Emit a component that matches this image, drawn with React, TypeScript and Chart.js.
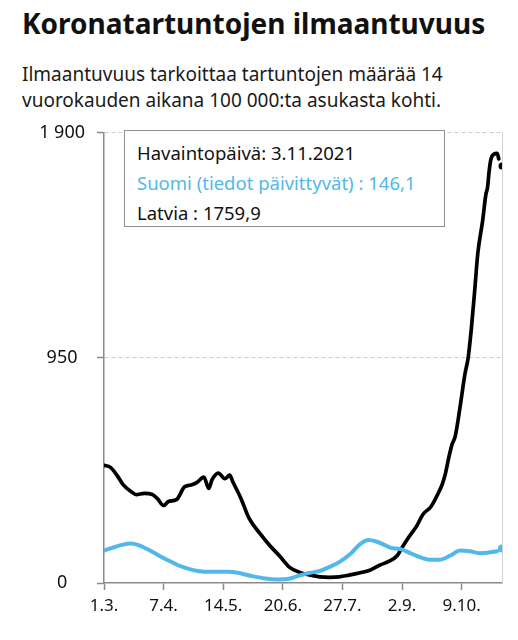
import React, { useEffect, useRef } from "react";
import { Chart, registerables } from "chart.js";

Chart.register(...registerables);

const FONT = '"Noto Sans", "Open Sans", sans-serif';
const BLACK = "#000000";
const BLUE = "#52b8ea";

// x = days since 1.3.2021
const xTickDays = [0, 37, 74, 111, 148, 185, 222];
const xTickLabels = ["1.3.", "7.4.", "14.5.", "20.6.", "27.7.", "2.9.", "9.10."];
const yTickValues = [0, 950, 1900];
const yTickLabels = ["0", "950", "1 900"];

const latviaDays = [0, 4, 8, 12, 17, 20, 25, 30, 33, 37, 40, 45, 50, 54, 58, 62, 65, 67, 71, 75, 78, 80, 85, 90, 97, 103, 109, 115, 122, 128, 134, 140, 146, 152, 159, 165, 171, 177, 182, 185, 189, 194, 198, 203, 207, 210, 212, 214, 216, 218, 221, 224, 226, 228, 230, 232, 235, 237, 238, 239, 240, 242, 244, 245];
const latviaValues = [497, 488, 455, 414, 385, 373, 378, 374, 357, 327, 344, 352, 406, 414, 426, 447, 399, 435, 464, 440, 455, 426, 357, 274, 207, 157, 114, 67, 43, 33, 26, 24, 26, 33, 43, 54, 75, 92, 116, 150, 192, 240, 290, 323, 373, 418, 465, 530, 585, 620, 744, 882, 951, 1075, 1230, 1392, 1530, 1640, 1668, 1737, 1785, 1810, 1813, 1790];

const finlandDays = [0, 5, 11, 17, 21, 28, 34, 40, 46, 52, 58, 67, 77, 83, 92, 100, 108, 114, 120, 128, 134, 140, 146, 153, 159, 164, 169, 174, 178, 184, 190, 196, 202, 208, 215, 221, 227, 233, 238, 244];
const finlandValues = [137, 148, 161, 167, 161, 139, 116, 95, 75, 61, 51, 47, 47, 43, 29, 19, 15, 17, 29, 43, 51, 68, 88, 123, 164, 181, 175, 161, 148, 143, 126, 109, 98, 98, 116, 137, 134, 126, 128, 134];

const lastDay = 247;
const latviaLast = 1759.9;
const finlandLast = 146.1;

const titleText = "Koronatartuntojen ilmaantuvuus";
const subtitleLines = ["Ilmaantuvuus tarkoittaa tartuntojen määrää 14", "vuorokauden aikana 100 000:ta asukasta kohti."];
const legendDate = "Havaintopäivä: 3.11.2021";
const legendFinland = "Suomi (tiedot päivittyvät) : 146,1";
const legendLatvia = "Latvia : 1759,9";

export default function App() {
  const ref = useRef<HTMLCanvasElement>(null);

  useEffect(() => {
    if (!ref.current) return;
    const chart = new Chart(ref.current, {
      type: "line",
      data: {
        datasets: [
          {
            label: "Suomi",
            data: finlandDays.map((d, i) => ({ x: d, y: finlandValues[i] })),
            borderColor: BLUE,
            borderWidth: 4,
            pointRadius: 0,
            tension: 0.4,
            cubicInterpolationMode: "monotone",
            borderCapStyle: "round",
            borderJoinStyle: "round",
          },
          {
            label: "Latvia",
            data: latviaDays.map((d, i) => ({ x: d, y: latviaValues[i] })),
            borderColor: BLACK,
            borderWidth: 3.7,
            pointRadius: 0,
            tension: 0.3,
            cubicInterpolationMode: "monotone",
            borderCapStyle: "round",
            borderJoinStyle: "round",
          },
          {
            label: "Suomi viimeisin",
            data: [{ x: lastDay, y: finlandLast }],
            showLine: false,
            pointRadius: 4,
            pointBackgroundColor: BLUE,
            pointBorderWidth: 0,
          },
          {
            label: "Latvia viimeisin",
            data: [{ x: lastDay, y: latviaLast }],
            showLine: false,
            pointRadius: 3.5,
            pointBackgroundColor: BLACK,
            pointBorderWidth: 0,
          },
        ],
      },
      options: {
        responsive: false,
        maintainAspectRatio: false,
        animation: false,
        layout: { padding: { top: 14, right: 16, left: 0, bottom: 0 } },
        plugins: { legend: { display: false }, tooltip: { enabled: false } },
        scales: {
          x: {
            type: "linear",
            min: 0,
            max: lastDay,
            afterBuildTicks: (s: any) => {
              s.ticks = xTickDays.map((v) => ({ value: v }));
            },
            afterFit: (s: any) => {
              s.height = 57;
            },
            ticks: {
              autoSkip: false,
              maxRotation: 0,
              padding: 6,
              color: "#111",
              font: { family: FONT, size: 17 },
              callback: (v: any) => {
                const i = xTickDays.indexOf(Number(v));
                return i >= 0 ? xTickLabels[i] : "";
              },
            },
            grid: {
              drawOnChartArea: false,
              drawTicks: true,
              tickLength: 7,
              tickColor: "#8a8a8a",
              tickWidth: 1.5,
            },
            border: { color: "#8a8a8a", width: 1.5 },
          },
          y: {
            min: 0,
            max: 1900,
            afterBuildTicks: (s: any) => {
              s.ticks = yTickValues.map((v) => ({ value: v }));
            },
            afterFit: (s: any) => {
              s.width = 104;
            },
            ticks: {
              crossAlign: "center",
              padding: 12,
              color: "#111",
              font: { family: FONT, size: 18 },
              callback: (v: any) => {
                const i = yTickValues.indexOf(Number(v));
                return i >= 0 ? yTickLabels[i] : "";
              },
            },
            grid: {
              color: (ctx: any) => (ctx.tick && ctx.tick.value === 0 ? "rgba(0,0,0,0)" : "#cccccc"),
              lineWidth: 1,
              tickColor: "#8a8a8a",
              tickLength: 7,
              tickWidth: 1.5,
            },
            border: { color: "#8a8a8a", width: 1.5, dash: [4, 3] },
          },
          yRight: {
            position: "right",
            min: 0,
            max: 1900,
            ticks: { display: false },
            grid: { display: false },
            border: { display: true, color: "#d4d4d4", width: 1 },
            afterFit: (s: any) => {
              s.width = 0;
            },
          },
        },
      },
    } as any);
    return () => chart.destroy();
  }, []);

  return (
    <div style={{ position: "absolute", left: 0, top: 0, width: 518, height: 640, fontFamily: FONT, color: "#111", background: "#fff" }}>
      <div style={{ position: "absolute", left: 22, top: 5, fontSize: 28, fontWeight: 700, lineHeight: "36px", whiteSpace: "nowrap" }}>
        {titleText}
      </div>
      <div style={{ position: "absolute", left: 22, top: 61, fontSize: 19, lineHeight: "26px", whiteSpace: "nowrap", color: "#1a1a1a" }}>
        {subtitleLines.map((l, i) => (
          <div key={i}>{l}</div>
        ))}
      </div>
      <canvas ref={ref} width={518} height={530} style={{ position: "absolute", left: 0, top: 110, width: 518, height: 530 }} />
      <div
        style={{
          position: "absolute",
          left: 124,
          top: 130,
          width: 307,
          height: 88,
          border: "1px solid #8f8f8f",
          background: "#fff",
          padding: "7px 0 0 12px",
          boxSizing: "content-box",
          fontSize: 18.5,
          lineHeight: "30px",
          whiteSpace: "nowrap",
        }}
      >
        <div style={{ color: "#111" }}>{legendDate}</div>
        <div style={{ color: BLUE }}>{legendFinland}</div>
        <div style={{ color: "#111" }}>{legendLatvia}</div>
      </div>
    </div>
  );
}
